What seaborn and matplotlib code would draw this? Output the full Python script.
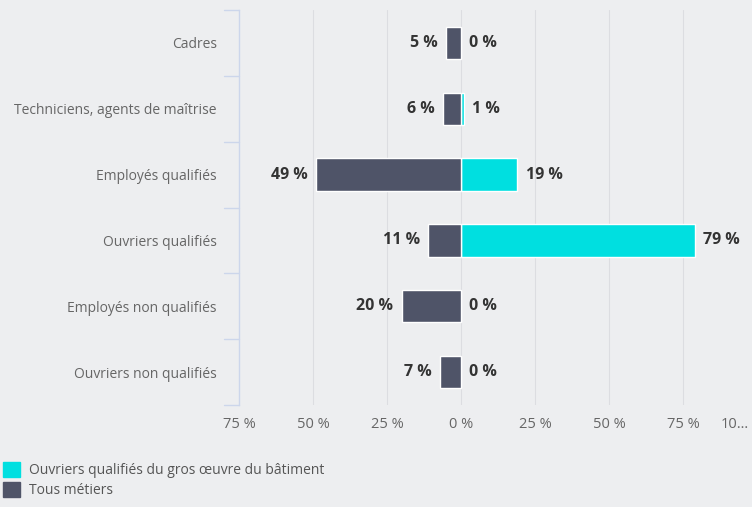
import matplotlib
matplotlib.use("Agg")
import matplotlib.pyplot as plt
import matplotlib.patches as mpatches
import matplotlib.transforms as mtransforms
import seaborn as sns
import pandas as pd

categories = ["Cadres", "Techniciens, agents de maîtrise", "Employés qualifiés",
              "Ouvriers qualifiés", "Employés non qualifiés", "Ouvriers non qualifiés"]
ouvriers_gros_oeuvre = [0, 1, 19, 79, 0, 0]
tous_metiers = [5, 6, 49, 11, 20, 7]
series_names = ["Ouvriers qualifiés du gros œuvre du bâtiment", "Tous métiers"]
x_ticks = [-75, -50, -25, 0, 25, 50, 75, 100]
x_tick_labels = ["75 %", "50 %", "25 %", "0 %", "25 %", "50 %", "75 %", "10…"]

BG = "#edeef0"
CYAN = "#00dfe0"
DARK = "#4f5468"

sns.set_theme(style="white")
plt.rcParams["font.family"] = ["Open Sans", "DejaVu Sans"]

df = pd.DataFrame({"cat": categories,
                   "pos": ouvriers_gros_oeuvre,
                   "neg": [-v for v in tous_metiers]})

fig = plt.figure(figsize=(7.52, 5.07), dpi=100, facecolor=BG)
ax = fig.add_axes([239 / 752, 1 - 405 / 507, 518 / 752, (405 - 10) / 507])
ax.set_facecolor(BG)

sns.barplot(data=df, y="cat", x="pos", orient="h", color=CYAN, width=0.49,
            saturation=1, edgecolor="white", linewidth=1, ax=ax)
sns.barplot(data=df, y="cat", x="neg", orient="h", color=DARK, width=0.49,
            saturation=1, edgecolor="white", linewidth=1, ax=ax)

ax.set_xlim(-75, 100)
ax.set_ylim(5.5, -0.5)
ax.set_xlabel("")
ax.set_ylabel("")

for i, (p, n) in enumerate(zip(ouvriers_gros_oeuvre, tous_metiers)):
    ax.annotate(f"{p} %", xy=(p, i), xytext=(6, 0), textcoords="offset points",
                ha="left", va="center", fontsize=11.5, fontweight="bold", color="#333333")
    ax.annotate(f"{n} %", xy=(-n, i), xytext=(-6, 0), textcoords="offset points",
                ha="right", va="center", fontsize=11.5, fontweight="bold", color="#333333")

# grid
for xv in x_ticks[1:]:
    ax.axvline(xv, color="#dcdde1", linewidth=0.8, zorder=0)

ax.set_xticks(x_ticks)
ax.set_xticklabels(x_tick_labels, fontsize=10.5, color="#666666")
ax.tick_params(axis="x", length=0, pad=9)
labels = ax.get_xticklabels()
labels[-1].set_horizontalalignment("right")
labels[-1].set_transform(labels[-1].get_transform() +
                         mtransforms.ScaledTranslation(-8 / 100, 0, fig.dpi_scale_trans))

# y-axis with category boundary ticks
ax.set_yticks(range(len(categories)))
ax.set_yticklabels(categories, fontsize=10, color="#666666")
ax.tick_params(axis="y", length=0, pad=16)
for b in [-0.5 + k for k in range(len(categories) + 1)]:
    ax.plot([-0.029, 0], [b, b], transform=ax.get_yaxis_transform(), color="#ccd6eb",
            linewidth=1, clip_on=False)

for s in ["top", "right", "bottom"]:
    ax.spines[s].set_visible(False)
ax.spines["left"].set_color("#ccd6eb")
ax.spines["left"].set_linewidth(1)

handles = [mpatches.Patch(color=CYAN), mpatches.Patch(color=DARK)]
fig.legend(handles, series_names, loc="upper left", bbox_to_anchor=(0.004, 0.089),
           frameon=False, fontsize=10, labelcolor="#555555", handlelength=1.2,
           handleheight=1.25, handletextpad=0.65, labelspacing=0.3, borderaxespad=0,
           borderpad=0)

fig.savefig("out.png", dpi=100, facecolor=BG)
